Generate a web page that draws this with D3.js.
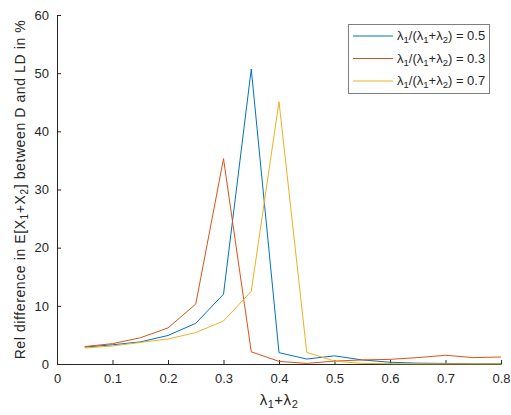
<!DOCTYPE html>
<html>
<head>
<meta charset="utf-8">
<script src="https://cdn.jsdelivr.net/npm/d3@7"></script>
<style>
  body { margin: 0; background: #fff; }
  svg { font-family: "Liberation Sans", Arial, sans-serif; }
</style>
</head>
<body>
<svg id="chart" width="511" height="415"></svg>
<script>
// x values: lambda1 + lambda2
let xValues = [0.05, 0.1, 0.15, 0.2, 0.25, 0.3, 0.35, 0.4, 0.45, 0.5, 0.55, 0.6, 0.65, 0.7, 0.75, 0.8]

// relative difference in %, one array per ratio
let ratio05 = [2.9, 3.3, 3.8, 4.9, 7.0, 12.0, 50.7, 1.95, 0.85, 1.4, 0.7, 0.3, 0.15, 0.1, 0.05, 0.05]
let ratio03 = [3.0, 3.5, 4.5, 6.2, 10.3, 35.3, 2.1, 0.45, 0.1, 0.5, 0.7, 0.8, 1.1, 1.5, 1.1, 1.2]
let ratio07 = [2.75, 3.1, 3.7, 4.3, 5.4, 7.4, 12.5, 45.1, 2.0, 0.5, 0.1, 0.05, 0.02, 0.02, 0.02, 0.02]

let seriesNames = ["0.5", "0.3", "0.7"]
let seriesColors = ["#0072BD", "#D95319", "#EDB120"]
let xTicks = [0, 0.1, 0.2, 0.3, 0.4, 0.5, 0.6, 0.7, 0.8]
let yTicks = [0, 10, 20, 30, 40, 50, 60]

let axisColor = "#262626"

let svg = d3.select("#chart")

let x = d3.scaleLinear().domain([0, 0.8]).range([57, 501])
let y = d3.scaleLinear().domain([0, 60]).range([364, 15])

let allSeries = [ratio05, ratio03, ratio07]

// x axis
let xAxis = svg.append("g")
  .attr("transform", "translate(0," + y(0) + ")")
  .call(d3.axisBottom(x).tickValues(xTicks).tickSizeInner(-4).tickSizeOuter(0).tickPadding(10)
    .tickFormat(d => d === 0 ? "0" : d3.format(".1f")(d)))
xAxis.select(".domain").attr("stroke", axisColor)
xAxis.selectAll(".tick line").attr("stroke", axisColor)
xAxis.selectAll("text").attr("fill", axisColor).style("font-size", "13px")
  .style("font-family", "Liberation Sans, Arial, sans-serif")

// y axis
let yAxis = svg.append("g")
  .attr("transform", "translate(" + x(0) + ",0)")
  .call(d3.axisLeft(y).tickValues(yTicks).tickSizeInner(-4).tickSizeOuter(0).tickPadding(8))
yAxis.select(".domain").attr("stroke", axisColor)
yAxis.selectAll(".tick line").attr("stroke", axisColor)
yAxis.selectAll("text").attr("fill", axisColor).style("font-size", "13px")
  .style("font-family", "Liberation Sans, Arial, sans-serif")

// lines
let line = d3.line()
  .x((d, i) => x(xValues[i]))
  .y(d => y(d))

svg.append("g").selectAll("path.series")
  .data(allSeries)
  .enter()
  .append("path")
  .attr("class", "series")
  .attr("d", d => line(d))
  .attr("fill", "none")
  .attr("stroke", (d, i) => seriesColors[i])
  .attr("stroke-width", 1)

// axis labels
let xLabel = svg.append("text")
  .attr("x", x(0.4))
  .attr("y", 405)
  .attr("text-anchor", "middle")
  .attr("fill", axisColor)
  .style("font-size", "15px")
  .style("letter-spacing", "0.5px")
xLabel.append("tspan").text("λ")
xLabel.append("tspan").attr("baseline-shift", "-30%").style("font-size", "11px").text("1")
xLabel.append("tspan").text("+λ")
xLabel.append("tspan").attr("baseline-shift", "-30%").style("font-size", "11px").text("2")

let yLabel = svg.append("text")
  .attr("transform", "translate(25," + ((y(0) + y(60)) / 2) + ") rotate(-90)")
  .attr("text-anchor", "middle")
  .attr("fill", axisColor)
  .style("font-size", "14px")
  .style("letter-spacing", "0.6px")
yLabel.append("tspan").text("Rel difference in E[X")
yLabel.append("tspan").attr("baseline-shift", "-30%").style("font-size", "10px").text("1")
yLabel.append("tspan").text("+X")
yLabel.append("tspan").attr("baseline-shift", "-30%").style("font-size", "10px").text("2")
yLabel.append("tspan").text("] between D and LD in %")

// legend
let legend = svg.append("g")
legend.append("rect")
  .attr("x", 348.5).attr("y", 24.5)
  .attr("width", 141).attr("height", 69)
  .attr("fill", "#fff")
  .attr("stroke", "#7f7f7f")
  .attr("stroke-width", 1)

seriesNames.forEach(function(name, i) {
  let ly = 36 + i * 22.5
  legend.append("line")
    .attr("x1", 353).attr("x2", 393)
    .attr("y1", ly).attr("y2", ly)
    .attr("stroke", seriesColors[i])
    .attr("stroke-width", 1)
  let t = legend.append("text")
    .attr("x", 397).attr("y", ly + 4)
    .attr("fill", axisColor)
    .style("font-size", "13px")
  t.append("tspan").text("λ")
  t.append("tspan").attr("baseline-shift", "-30%").style("font-size", "9.5px").text("1")
  t.append("tspan").text("/(λ")
  t.append("tspan").attr("baseline-shift", "-30%").style("font-size", "9.5px").text("1")
  t.append("tspan").text("+λ")
  t.append("tspan").attr("baseline-shift", "-30%").style("font-size", "9.5px").text("2")
  t.append("tspan").text(") = " + name)
})
</script>
</body>
</html>
